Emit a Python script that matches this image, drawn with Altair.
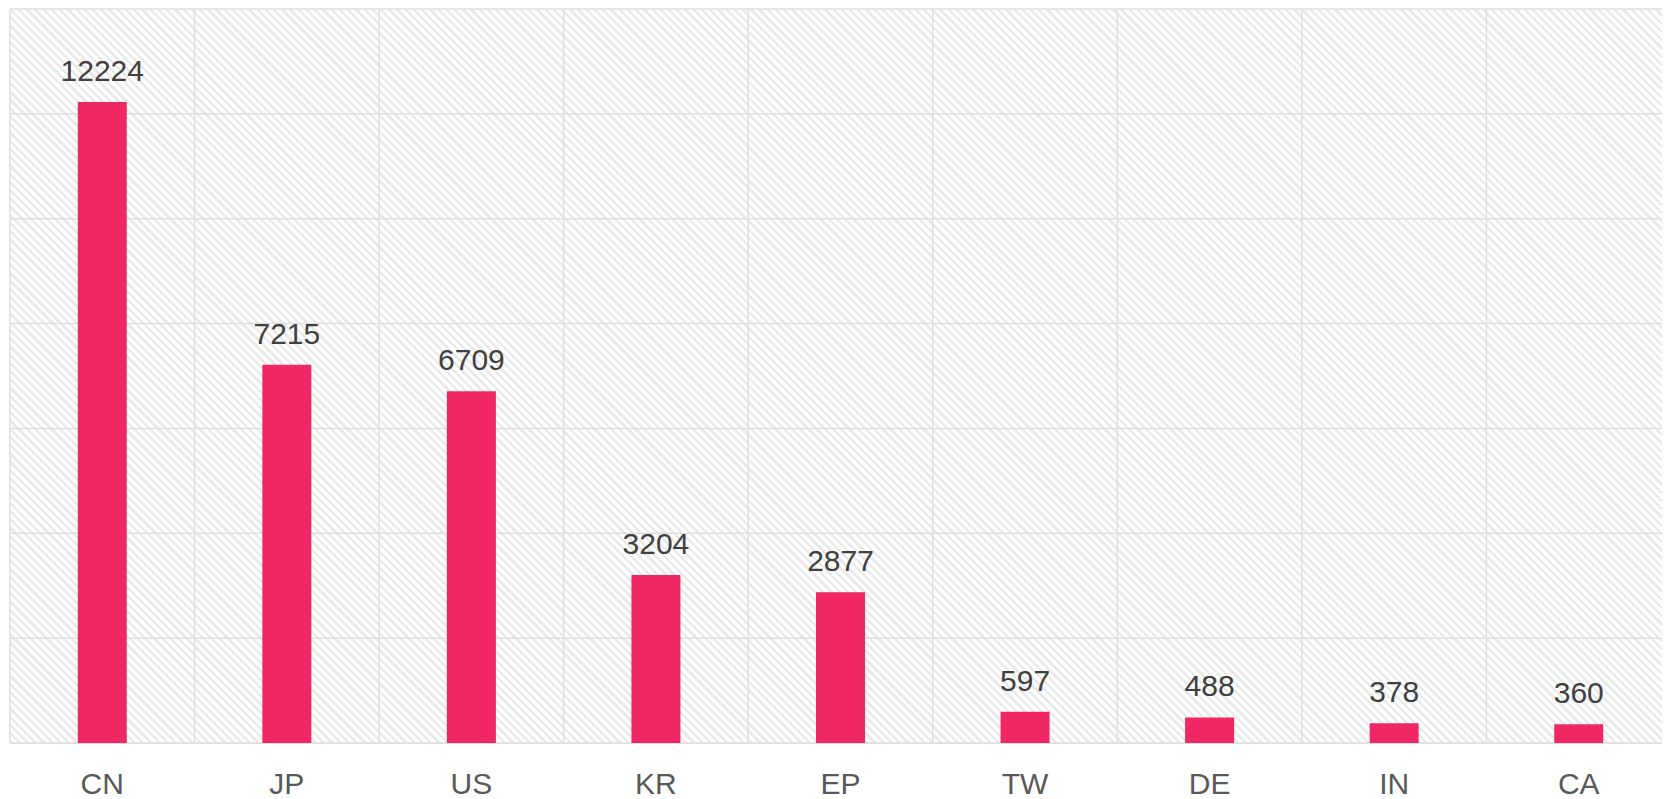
import altair as alt
import pandas as pd

countries = ["CN", "JP", "US", "KR", "EP", "TW", "DE", "IN", "CA"]
counts = [12224, 7215, 6709, 3204, 2877, 597, 488, 378, 360]
y_ticks = [0, 2000, 4000, 6000, 8000, 10000, 12000, 14000]

df = pd.DataFrame({"country": countries, "count": counts})
ticks_df = pd.DataFrame({"tick": y_ticks})

W, H = 1652, 734
X_RANGE = 1661  # bands run slightly past the visible edge, as in the reference

# diagonal hatch background via a many-stop linear gradient (bbox units)
a = H / W
s = (1 + a) / (1 + a * a)
n_stripes = 290
gray_frac = 0.4
stops = []
for i in range(n_stripes):
    o0 = i / n_stripes
    o1 = (i + gray_frac) / n_stripes
    o2 = (i + 1) / n_stripes
    stops += [
        alt.GradientStop(offset=round(o0, 6), color="#e9e9e9"),
        alt.GradientStop(offset=round(o1, 6), color="#e9e9e9"),
        alt.GradientStop(offset=round(o1, 6), color="#ffffff"),
        alt.GradientStop(offset=round(o2, 6), color="#ffffff"),
    ]
hatch = alt.LinearGradient(
    gradient="linear", stops=stops, x1=0, y1=1, x2=s, y2=1 - s * a
)

x_scale = alt.Scale(domain=countries, range=[0, X_RANGE], paddingInner=0, paddingOuter=0)
y_scale = alt.Scale(domain=[0, 14000], nice=False)

x_axis = alt.Axis(
    title=None,
    labelAngle=0,
    labelFontSize=30,
    labelFont="Liberation Sans",
    labelColor="#595959",
    labelPadding=26,
    ticks=False,
    domain=False,
    grid=False,
)

background = alt.Chart(df).mark_rect(fill=hatch, strokeWidth=0).encode(
    x=alt.value(0), x2=alt.value("width"), y=alt.value(0), y2=alt.value("height")
)

h_grid = alt.Chart(ticks_df).mark_rule(color="#dedede", strokeWidth=1.5).encode(
    y=alt.Y("tick:Q", scale=y_scale, axis=None)
)

v_grid = alt.Chart(df).mark_rule(color="#dedede", strokeWidth=1.5).encode(
    x=alt.X("country:N", sort=countries, scale=x_scale, bandPosition=0, axis=x_axis)
)

bars = alt.Chart(df).mark_bar(size=49, color="#ef2864").encode(
    x=alt.X("country:N", sort=countries, scale=x_scale, axis=x_axis),
    y=alt.Y("count:Q", scale=y_scale, axis=None),
)

labels = alt.Chart(df).mark_text(
    fontSize=30,
    font="Liberation Sans",
    color="#404040",
    baseline="alphabetic",
    dy=-21,
).encode(
    x=alt.X("country:N", sort=countries, scale=x_scale, axis=x_axis),
    y=alt.Y("count:Q", scale=y_scale, axis=None),
    text="count:Q",
)

chart = (
    alt.layer(background, h_grid, v_grid, bars, labels)
    .properties(
        width=W,
        height=H,
        autosize=alt.AutoSizeParams(type="none"),
        padding={"left": 2, "top": 1, "right": 0, "bottom": 56},
    )
    .configure_view(stroke=None)
    .configure(background="#ffffff")
)

chart.save("out.html", embed_options={"renderer": "svg", "actions": False})
